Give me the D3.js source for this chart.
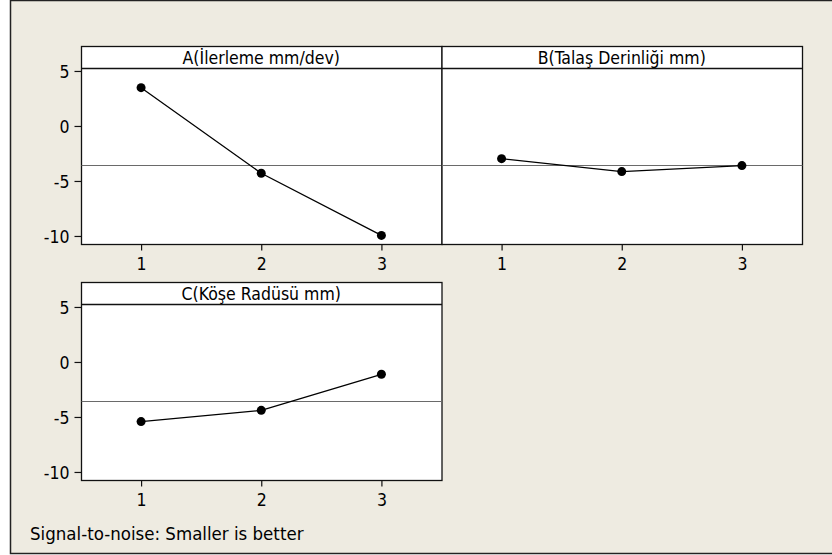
<!DOCTYPE html>
<html><head><meta charset="utf-8">
<script src="https://cdn.jsdelivr.net/npm/d3@7/dist/d3.min.js"></script>
<style>
html,body{margin:0;padding:0;background:#fff;}
svg{display:block;}
text{font-family:"DejaVu Sans Condensed","DejaVu Sans",sans-serif;fill:#000;}
</style></head>
<body>
<script>
const levels = [1, 2, 3];
const factorTitles = ["A(İlerleme mm/dev)", "B(Talaş Derinliği mm)", "C(Köşe Radüsü mm)"];
const seriesA = [3.48, -4.3, -9.95];
const seriesB = [-2.97, -4.15, -3.6];
const seriesC = [-5.42, -4.4, -1.12];
const grandMean = -3.55;
const yTicks = [5, 0, -5, -10];
const xTicks = [1, 2, 3];
const footnote = "Signal-to-noise: Smaller is better";

const W = 832, H = 555;
const FONT = '"DejaVu Sans Condensed","DejaVu Sans",sans-serif';
const FS = 17.5;
const svg = d3.select("body").append("svg").attr("width", W).attr("height", H);
svg.append("rect").attr("x", 10.5).attr("y", 0.5).attr("width", 830).attr("height", 553)
  .attr("fill", "#EEEBE1").attr("stroke", "#222").attr("stroke-width", 1.5);

const panelW = 360.5, panelH = 198, headerH = 22;
const panels = [
  {title: factorTitles[0], values: seriesA, x: 81, y: 46, showY: true},
  {title: factorTitles[1], values: seriesB, x: 441.5, y: 46, showY: false},
  {title: factorTitles[2], values: seriesC, x: 81, y: 282, showY: true}
];

panels.forEach(p => {
  const g = svg.append("g").attr("transform", `translate(${p.x},${p.y})`);
  const x = d3.scaleLinear().domain([0.5, 3.5]).range([0, panelW]);
  const y = d3.scaleLinear().domain([-10.73, 5.27]).range([panelH, headerH]);
  g.append("rect").attr("x", 0.5).attr("y", 0.5).attr("width", panelW).attr("height", panelH)
    .attr("fill", "#fff").attr("stroke", "#111").attr("stroke-width", 1.3);
  g.append("line").attr("x1", 0.5).attr("x2", panelW + 0.5).attr("y1", headerH + 0.5).attr("y2", headerH + 0.5)
    .attr("stroke", "#111").attr("stroke-width", 1.3);
  g.append("text").attr("x", panelW / 2).attr("y", headerH - 4).attr("text-anchor", "middle")
    .attr("font-size", FS).style("font-family", FONT).text(p.title);
  // mean line
  g.append("line").attr("x1", 0.5).attr("x2", panelW + 0.5)
    .attr("y1", Math.round(y(grandMean)) + 0.5).attr("y2", Math.round(y(grandMean)) + 0.5)
    .attr("stroke", "#6a6a6a").attr("stroke-width", 1.2);
  // axes
  const xa = g.append("g").attr("transform", `translate(0,${panelH + 0.5})`)
    .call(d3.axisBottom(x).tickValues(xTicks).tickFormat(d => String(d)).tickSize(6).tickSizeOuter(0));
  xa.select(".domain").remove();
  xa.selectAll("text").attr("font-size", FS).attr("y", 25.5).attr("dy", 0).style("font-family", FONT);
  xa.selectAll("line").attr("stroke", "#111").attr("stroke-width", 1.2);
  if (p.showY) {
    const ya = g.append("g").attr("transform", `translate(0.5,0)`)
      .call(d3.axisLeft(y).tickValues(yTicks).tickFormat(d => String(d)).tickSize(7).tickPadding(5).tickSizeOuter(0));
    ya.select(".domain").remove();
    ya.selectAll("text").attr("font-size", FS).attr("dy", "0.36em").style("font-family", FONT);
    ya.selectAll("line").attr("stroke", "#111").attr("stroke-width", 1.2);
  }
  const line = d3.line().x((d, i) => x(levels[i])).y(d => y(d));
  g.append("path").datum(p.values).attr("d", line).attr("fill", "none").attr("stroke", "#000").attr("stroke-width", 1.3);
  g.selectAll("circle.pt").data(p.values).join("circle").attr("class", "pt")
    .attr("cx", (d, i) => x(levels[i])).attr("cy", d => y(d)).attr("r", 4.5).attr("fill", "#000");
});

svg.append("text").attr("x", 30).attr("y", 540).attr("font-size", 18.5).style("font-family", FONT).text(footnote);
</script>
</body></html>
